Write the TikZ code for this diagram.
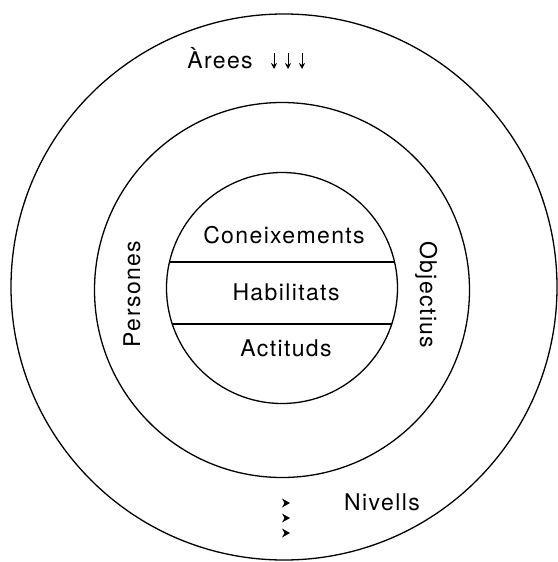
\documentclass[tikz,border=0pt]{standalone}
\usepackage{fontspec}
\setmainfont{TeX Gyre Heros}[LetterSpace=6]
\usetikzlibrary{arrows.meta}

\begin{document}
\begin{tikzpicture}[x=1pt,y=-1pt,line width=1.3pt,
                ring/.style={circle,draw,inner sep=0pt},
                label text/.style={font=\fontsize{23}{28}\selectfont}]
            \useasboundingbox (0,0) rectangle (557,562);

            % three rings
            \node[ring, minimum size=546pt] (outer) at (284,287) {};
            \node[ring, minimum size=375pt] (middle) at (282,290) {};
            \node[ring, minimum size=231pt] (inner) at (282,288) {};

            % the core split in three bands
            \begin{scope}
                \clip (inner.center) circle (115.5);
                \draw (150,262) -- (420,262);
                \draw (150,324) -- (420,324);
            \end{scope}

            \node[label text] (con) at (284,235) {Coneixements};
            \node[label text] (hab) at (286,292) {Habilitats};
            \node[label text] (act) at (286,348) {Actituds};

            \node[label text, rotate=90, anchor=base] (pers) at (140,294) {Persones};
            \node[label text, rotate=-90, anchor=base] (obj) at (420,295) {Objectius};

            \node[label text, anchor=base] (arees) at (220,68) {Àrees};
            \foreach \x in {274,288,302}
                \draw[line width=0.9pt, -{Stealth[length=6pt,width=6pt]}] (\x,53) -- (\x,69);

            \node[label text] (niv) at (382,502) {Nivells};
            \foreach \y in {503,518,533}
                \fill (282,\y-4.5) -- (290,\y) -- (282,\y+4.5) -- (284.5,\y) -- cycle;

        \end{tikzpicture}
\end{document}
